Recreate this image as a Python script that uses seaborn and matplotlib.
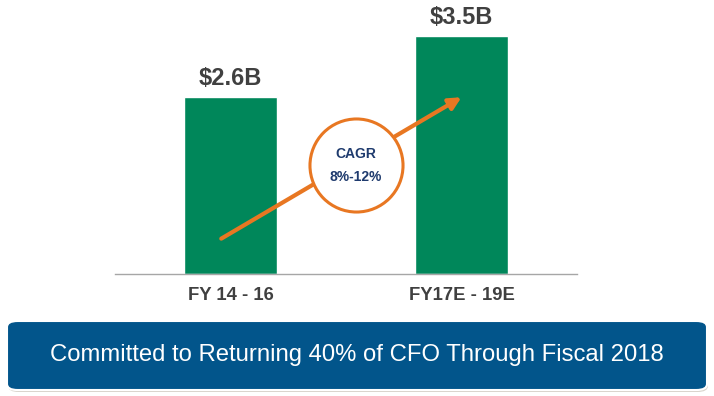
import matplotlib
matplotlib.use("Agg")
import matplotlib.pyplot as plt
from matplotlib.patches import FancyBboxPatch
import seaborn as sns
import pandas as pd

sns.set_theme(style="white")
plt.rcParams['font.family'] = ['Liberation Sans', 'DejaVu Sans']

categories = ["FY 14 - 16", "FY17E - 19E"]
values = [2.6, 3.5]
value_labels = ["$2.6B", "$3.5B"]
banner_text = "Committed to Returning 40% of CFO Through Fiscal 2018"

GREEN = "#00875A"
ORANGE = "#E87722"
GRAY = "#404040"
NAVY = "#1F3B6E"
BLUE = "#02558B"

W, H = 714, 396
fig = plt.figure(figsize=(W / 100, H / 100), dpi=100)

# axes in pixel layout: x 115..577, y bottom at 274 px from top
left, right, bottom_px = 115, 577, 274
ax = fig.add_axes([left / W, (H - bottom_px) / H, (right - left) / W, bottom_px / H])

df = pd.DataFrame({"period": categories, "value": values})
sns.barplot(data=df, x="period", y="value", color=GREEN, saturation=1,
            width=0.4, ax=ax, zorder=2)

ax.set_xlim(-0.5, 1.5)
ax.set_ylim(0, 4.03)
for s in ["top", "right", "left"]:
    ax.spines[s].set_visible(False)
ax.spines["bottom"].set_color("#A6A6A6")
ax.spines["bottom"].set_linewidth(1.0)
ax.set_yticks([])
ax.set_xlabel("")
ax.set_ylabel("")
ax.tick_params(axis="x", length=0, pad=9)
for t in ax.get_xticklabels():
    t.set_fontsize(13.3)
    t.set_fontweight("bold")
    t.set_color(GRAY)

for i, (v, lab) in enumerate(zip(values, value_labels)):
    ax.text(i, v + 0.1, lab, ha="center", va="bottom", fontsize=17,
            fontweight="bold", color=GRAY)

# growth arrow from the first bar to the second bar at the first bar's height
ax.annotate("", xy=(1.0, values[0]), xytext=(-0.04, values[0] * 0.2),
            arrowprops=dict(arrowstyle="-|>,head_length=0.6,head_width=0.3",
                            color=ORANGE, lw=3, shrinkA=0, shrinkB=0),
            zorder=3)

# CAGR circle
cx, cy = 0.544, 1.60
ax.plot([cx], [cy], marker="o", markersize=67, markerfacecolor="white",
        markeredgecolor=ORANGE, markeredgewidth=2.2, zorder=4, clip_on=False)
ax.text(cx, cy + 0.17, "CAGR", ha="center", va="center", fontsize=10,
        fontweight="bold", color=NAVY, zorder=5)
ax.text(cx, cy - 0.18, "8%-12%", ha="center", va="center", fontsize=10,
        fontweight="bold", color=NAVY, zorder=5)

# banner
bx0, bx1, by0, by1 = 7, 707, 321, 390
shadow = FancyBboxPatch(((bx0 + 1) / W, (H - by1 - 2) / H), (bx1 - bx0) / W, (by1 - by0) / H,
                        boxstyle="round,pad=0,rounding_size=0.015",
                        transform=fig.transFigure, facecolor="#D9D4CC",
                        edgecolor="none", zorder=0)
fig.patches.append(shadow)
banner = FancyBboxPatch((bx0 / W, (H - by1) / H), (bx1 - bx0) / W, (by1 - by0) / H,
                        boxstyle="round,pad=0,rounding_size=0.015",
                        transform=fig.transFigure, facecolor=BLUE,
                        edgecolor="white", linewidth=1.5, zorder=1)
fig.patches.append(banner)
fig.text((bx0 + bx1) / 2 / W, (H - (by0 + by1) / 2) / H, banner_text,
         ha="center", va="center", fontsize=17.2, color="white", zorder=2)

fig.savefig("out.png", dpi=100)
